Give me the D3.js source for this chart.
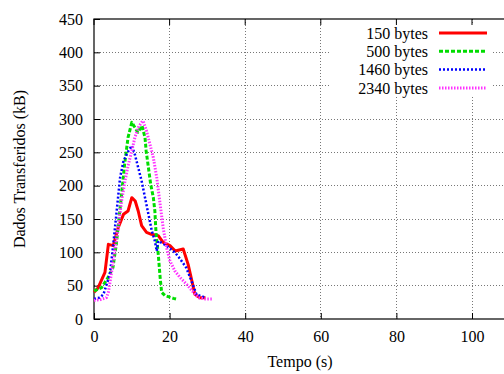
<!DOCTYPE html>
<html>
<head>
<meta charset="utf-8">
<script src="https://cdn.jsdelivr.net/npm/d3@7"></script>
<style>
  body { margin: 0; background: #fff; }
  svg text { font-family: "Liberation Serif", "Times New Roman", "DejaVu Serif", serif !important; }
</style>
</head>
<body>
<script>
// series: [tempo (s), dados (kB)]
const s150 = [[0,40],[1.1,47],[2.9,70],[3.8,112],[5.1,110],[6.4,137],[7.8,157],[9.0,162],[10.0,182],[10.9,177],[11.7,162],[12.6,140],[13.9,130],[15.2,127],[17,125],[18.3,115],[20.1,110],[21.5,102],[23.6,105],[24.9,82],[26.7,37],[28,32],[29.5,32]];
const s500 = [[0,42],[2.0,47],[3.7,62],[5,77],[5.9,112],[7.2,182],[8.1,232],[9,272],[10,295],[11.6,280],[12.7,290],[13.5,272],[13.8,252],[14.4,227],[15,202],[15.7,182],[16.1,162],[16.4,130],[17,97],[17.5,62],[17.9,40],[18.8,35],[21,31],[21.7,30]];
const s1460 = [[0,30],[1.5,32],[2.5,37],[4.2,67],[5.1,112],[6.0,162],[6.9,212],[7.8,237],[9.1,252],[10,260],[10.8,247],[11.7,227],[12.6,207],[13.5,182],[14.4,157],[15.3,132],[16.1,117],[16.6,102],[17,117],[19.2,110],[21.4,100],[22.8,90],[24.4,77],[25.8,57],[27.1,37],[29.4,32]];
const s2340 = [[0,28],[1.6,29],[3.3,32],[3.8,40],[4.7,72],[5.6,107],[6.4,137],[7.3,177],[8.2,207],[9.1,232],[10,252],[10.8,272],[11.7,287],[12.6,295],[13,297],[13.9,282],[14.8,262],[15.7,242],[16.6,212],[17.5,172],[18.3,137],[19.2,107],[20.1,87],[21.4,72],[22.8,62],[24.5,52],[26.3,40],[27.6,32],[29.5,30],[31.5,30]];

const seriesNames = ["150 bytes", "500 bytes", "1460 bytes", "2340 bytes"];
const seriesData = [s150, s500, s1460, s2340];
const colors = ["#ff0000", "#00dd00", "#0000ff", "#ff33ff"];
const dashes = [null, "4,2", "2,2", "1.5,1.5"];
const widths = [3, 3, 2.5, 3];

const xTicks = [0, 20, 40, 60, 80, 100];
const yTicks = [0, 50, 100, 150, 200, 250, 300, 350, 400, 450];

const W = 504, H = 374;
const svg = d3.select("body").append("svg")
  .attr("width", W).attr("height", H);

const pLeft = 94, pTop = 19, pBottom = 319;
const x = d3.scaleLinear().domain([0, 120]).range([pLeft, pLeft + 6 * 75.6]);
const y = d3.scaleLinear().domain([0, 450]).range([pBottom, pTop]);
const pRight = x(120);

// grid
const grid = svg.append("g").attr("stroke", "#777").attr("stroke-width", 1)
  .attr("stroke-dasharray", "1,2").attr("shape-rendering", "crispEdges");
xTicks.filter(d => d > 0).forEach(d => {
  grid.append("line").attr("x1", x(d)).attr("x2", x(d)).attr("y1", pTop).attr("y2", pBottom);
});
yTicks.filter(d => d > 0 && d < 450).forEach(d => {
  grid.append("line").attr("x1", pLeft).attr("x2", pRight).attr("y1", y(d)).attr("y2", y(d));
});

// legend background hides grid
svg.append("rect").attr("x", 330).attr("y", 23).attr("width", 162).attr("height", 72)
  .attr("fill", "#fff");

// axes (inward ticks, gnuplot style)
const xAxis = svg.append("g").attr("transform", `translate(0,${pBottom})`)
  .call(d3.axisBottom(x).tickValues(xTicks).tickSizeInner(-6).tickSizeOuter(0).tickPadding(12));
const yAxis = svg.append("g").attr("transform", `translate(${pLeft},0)`)
  .call(d3.axisLeft(y).tickValues(yTicks).tickSizeInner(-6).tickSizeOuter(0).tickPadding(11));
[xAxis, yAxis].forEach(a => {
  a.attr("font-family", null).attr("font-size", null);
  a.selectAll("text").attr("font-size", 16).attr("fill", "#000");
  a.select(".domain").remove();
  a.selectAll("line").attr("stroke", "#000");
});
// top mirror ticks
xTicks.forEach(d => {
  svg.append("line").attr("x1", x(d)).attr("x2", x(d)).attr("y1", pTop).attr("y2", pTop + 6)
    .attr("stroke", "#000");
});

// frame
svg.append("rect").attr("x", pLeft).attr("y", pTop).attr("width", pRight - pLeft).attr("height", pBottom - pTop)
  .attr("fill", "none").attr("stroke", "#000").attr("stroke-width", 1.2);

// series
const line = d3.line().x(d => x(d[0])).y(d => y(d[1]));
seriesData.forEach((s, i) => {
  svg.append("path").datum(s)
    .attr("d", line)
    .attr("fill", "none")
    .attr("stroke", colors[i])
    .attr("stroke-width", widths[i])
    .attr("stroke-dasharray", dashes[i])
    .attr("stroke-linejoin", "round");
});

// legend
seriesNames.forEach((n, i) => {
  const ly = 33 + i * 18.3;
  svg.append("text").attr("x", 428).attr("y", ly).attr("dy", "0.35em")
    .attr("text-anchor", "end").attr("font-size", 16).text(n);
  svg.append("line").attr("x1", 439).attr("x2", 487).attr("y1", ly).attr("y2", ly)
    .attr("stroke", colors[i]).attr("stroke-width", widths[i])
    .attr("stroke-dasharray", dashes[i]);
});

// axis labels
svg.append("text").attr("x", 300).attr("y", 367).attr("text-anchor", "middle")
  .attr("font-size", 16).text("Tempo (s)");
svg.append("text").attr("transform", `translate(25,${(pTop + pBottom) / 2}) rotate(-90)`)
  .attr("text-anchor", "middle").attr("font-size", 16).text("Dados Transferidos (kB)");
</script>
</body>
</html>
